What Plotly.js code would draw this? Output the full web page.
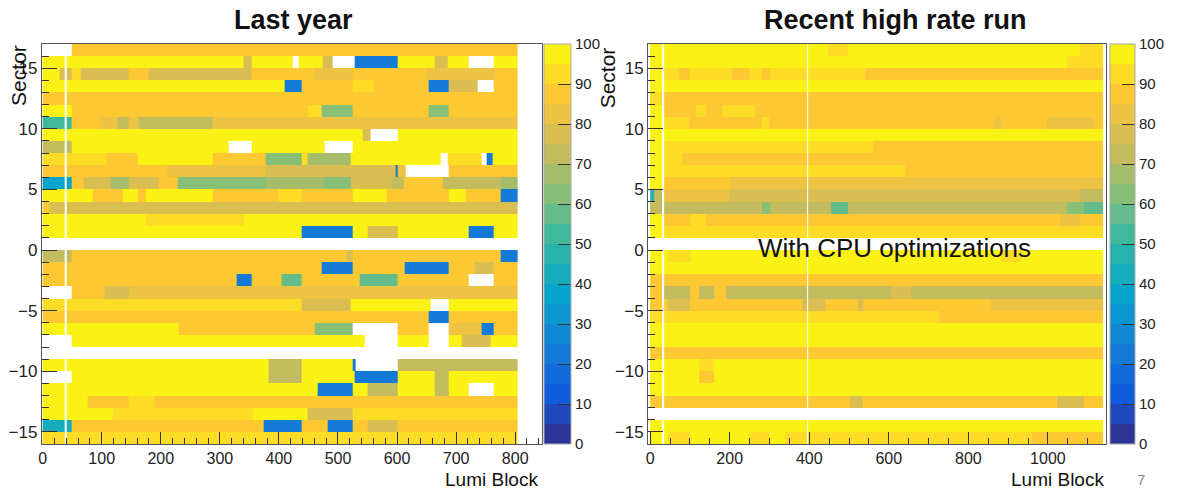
<!DOCTYPE html>
<html><head><meta charset="utf-8">
<script src="https://cdn.plot.ly/plotly-3.0.1.min.js"></script>
<style>html,body{margin:0;padding:0;background:#fff}#chart{width:1178px;height:490px}</style>
</head><body><div id="chart"></div>
<script>
const N = null;
// sectors listed top to bottom
const sectors = [16,15,14,13,12,11,10,9,8,7,6,5,4,3,2,1,0,-1,-2,-3,-4,-5,-6,-7,-8,-9,-10,-11,-12,-13,-14,-15,-16];
// each row: run-length segments [endLumiBlock, value] starting at lumi block 0 (null = no data)
const lastYearRows = [
 [[49,N],[805,88]],
 [[340,97],[353,77],[424,97],[434,N],[474,97],[491,77],[528,N],[601,20],[663,97],[685,77],[722,97],[764,N],[805,97]],
 [[29,97],[49,77],[65,92],[146,77],[180,88],[353,77],[460,87],[525,80],[650,87],[765,80],[805,87]],
 [[410,97],[438,20],[525,87],[560,92],[654,87],[688,20],[736,77],[764,N],[805,87]],
 [[805,87]],
 [[49,97],[449,87],[472,92],[525,62],[654,87],[688,62],[805,87]],
 [[49,55],[96,87],[127,82],[146,72],[163,82],[287,72],[805,83]],
 [[542,97],[556,78],[601,N],[805,97]],
 [[49,72],[315,97],[353,N],[478,97],[525,N],[805,97]],
 [[108,92],[160,87],[287,97],[377,87],[438,63],[449,92],[522,68],[674,97],[685,N],[744,92],[752,N],[761,20],[805,97]],
 [[210,87],[377,80],[598,78],[601,20],[615,82],[688,N],[805,85]],
 [[49,38],[70,87],[115,75],[146,68],[197,75],[228,87],[377,63],[475,68],[522,63],[590,77],[611,72],[678,87],[775,72],[805,65]],
 [[85,97],[136,87],[160,97],[175,87],[287,97],[399,87],[438,92],[525,87],[582,97],[688,87],[716,97],[775,87],[805,20]],
 [[12,87],[805,77]],
 [[175,97],[340,92],[805,97]],
 [[438,97],[525,20],[551,97],[601,77],[722,97],[764,20],[805,97]],
 [[805,N]],
 [[49,72],[514,87],[525,77],[775,87],[805,20]],
 [[472,89],[525,20],[613,89],[688,20],[731,89],[764,77],[805,89]],
 [[329,87],[354,20],[405,87],[438,57],[537,87],[601,57],[722,87],[764,N],[805,87]],
 [[49,N],[105,87],[146,75],[805,84]],
 [[438,92],[522,75],[657,97],[688,N],[805,97]],
 [[654,87],[688,20],[805,87]],
 [[230,97],[461,87],[525,63],[601,N],[654,87],[688,N],[744,82],[764,20],[805,87]],
 [[49,N],[545,97],[601,N],[654,97],[688,N],[710,97],[758,77],[805,97]],
 [[805,N]],
 [[383,97],[438,72],[525,97],[530,20],[601,N],[805,72]],
 [[49,N],[383,97],[438,72],[528,97],[601,20],[663,97],[688,72],[805,97]],
 [[466,97],[525,20],[551,97],[601,72],[663,97],[688,72],[722,97],[764,N],[805,97]],
 [[77,97],[146,87],[190,92],[805,87]],
 [[119,97],[355,92],[449,97],[525,75],[805,92]],
 [[49,43],[374,87],[438,20],[482,87],[525,20],[551,87],[601,77],[805,87]],
 [[805,91]]
];
const recentRows = [
 [[448,97],[497,92],[1082,97],[1138,92]],
 [[1048,97],[1138,92]],
 [[32,97],[73,92],[97,87],[205,92],[248,87],[282,92],[302,87],[540,92],[1138,87]],
 [[1138,97]],
 [[32,92],[1138,87]],
 [[32,97],[115,87],[140,92],[180,87],[265,92],[1138,87]],
 [[32,97],[98,92],[280,87],[300,92],[865,87],[882,82],[998,87],[1115,82],[1138,87]],
 [[1138,97]],
 [[32,97],[560,92],[1138,87]],
 [[32,97],[80,92],[1138,87]],
 [[32,97],[640,92],[1138,87]],
 [[32,97],[200,87],[1138,84]],
 [[10,45],[32,72],[198,82],[1082,77],[1138,74]],
 [[282,72],[302,60],[456,72],[497,58],[1048,72],[1090,63],[1138,58]],
 [[32,97],[100,87],[140,92],[1031,87],[1082,82],[1138,87]],
 [[32,97],[1138,91]],
 [[1138,N]],
 [[44,97],[102,92],[882,97],[932,92],[1138,97]],
 [[1138,97]],
 [[1138,87]],
 [[32,87],[100,74],[123,87],[161,74],[190,87],[607,74],[657,78],[1138,74]],
 [[46,87],[100,77],[382,87],[440,77],[523,87],[535,77],[857,87],[1138,80]],
 [[727,92],[1138,88]],
 [[1138,97]],
 [[1138,97]],
 [[1138,88]],
 [[123,97],[161,92],[1138,97]],
 [[123,97],[161,86],[1138,97]],
 [[1138,97]],
 [[228,88],[503,85],[535,78],[1023,85],[1090,78],[1138,87]],
 [[1138,N]],
 [[1138,97]],
 [[44,97],[102,91],[248,97],[300,91],[340,97],[960,92],[1138,88]]
];
// lumi block ranges with no data in every sector (thin white columns)
const lastYearGaps = [[38,40]];
const recentGaps = [[30,34],[394,396]];
const lastYearTicks = [0,100,200,300,400,500,600,700,800];
const recentTicks = [0,200,400,600,800,1000];
const sectorTicks = [-15,-10,-5,0,5,10,15];
const colorTicks = [0,10,20,30,40,50,60,70,80,90,100];

// ROOT kBird palette
const birdStops = [[53,42,135],[15,92,221],[20,129,214],[6,164,202],[46,183,164],[135,191,119],[209,187,89],[254,200,50],[249,251,14]];
function bird(t){
  const n = birdStops.length-1; const p = Math.min(n-1e-9, Math.max(0,t*n)); const i = Math.floor(p), f = p-i;
  const a = birdStops[i], b = birdStops[i+1];
  return 'rgb(' + [0,1,2].map(k=>Math.round(a[k]+(b[k]-a[k])*f)).join(',') + ')';
}
const nBands = 20, colorscale = [];
for (let i=0;i<nBands;i++){ const c = bird((i+0.5)/nBands); colorscale.push([i/nBands,c],[(i+1)/nBands,c]); }

function buildGrid(rows, gaps){
  const set = new Set([0]);
  rows.forEach(r=>r.forEach(s=>set.add(s[0])));
  gaps.forEach(g=>{set.add(g[0]);set.add(g[1]);});
  const edges = Array.from(set).sort((a,b)=>a-b);
  const z = rows.map(r=>{
    const out = [];
    for (let c=0;c<edges.length-1;c++){
      const mid = (edges[c]+edges[c+1])/2;
      if (gaps.some(g=>mid>g[0]&&mid<g[1])) { out.push(null); continue; }
      const seg = r.find(s=>s[0]>mid);
      out.push(seg ? seg[1] : null);
    }
    return out;
  }).reverse();
  return {edges, z};
}
const yCenters = sectors.slice().reverse().map(s=>s+0.5);
const gL = buildGrid(lastYearRows, lastYearGaps);
const gR = buildGrid(recentRows, recentGaps);

const W = 1178, H = 490;
const FONT = 'Liberation Sans, Arial, sans-serif';
const tickFont = {family: FONT, size: 16, color: '#222'};
function xAxis(dom, range, ticks, minor, anchor){
  return {domain: dom, range: range, anchor: anchor, tickvals: ticks, ticks: 'inside', ticklen: 12, tickcolor: '#333',
    minor: {dtick: minor, tick0: 0, ticks: 'inside', ticklen: 6, tickcolor: '#333', showgrid: false},
    showline: true, linecolor: '#555', linewidth: 1, mirror: true, showgrid: false, zeroline: false, tickfont: tickFont, fixedrange: true};
}
function yAxis(anchor){
  return {domain: [1-444/H, 1-44/H], range: [-16,17], anchor: anchor, tickvals: sectorTicks, ticks: 'inside', ticklen: 15, tickcolor: '#333',
    minor: {dtick: 1, tick0: 0, ticks: 'inside', ticklen: 7, tickcolor: '#333', showgrid: false},
    showline: true, linecolor: '#555', linewidth: 1, mirror: true, showgrid: false, zeroline: false,
    tickfont: {family: FONT, size: 17, color: '#222'}, fixedrange: true};
}
function cbar(xpx, thick){
  return {x: xpx/W, xanchor: 'left', xpad: 0, ypad: 0, y: 1-244/H, yanchor: 'middle', len: 400/H, lenmode: 'fraction',
    thickness: thick, thicknessmode: 'pixels', tickvals: colorTicks, ticks: 'inside', ticklen: 13, tickcolor: '#333',
    outlinewidth: 1, outlinecolor: '#aaa', tickfont: {family: FONT, size: 15, color: '#222'}, borderwidth: 0};
}
const traces = [
  {type: 'heatmap', x: gL.edges, y: yCenters, z: gL.z, coloraxis: 'coloraxis', xaxis: 'x', yaxis: 'y', hoverongaps: false},
  {type: 'heatmap', x: gR.edges, y: yCenters, z: gR.z, coloraxis: 'coloraxis2', xaxis: 'x2', yaxis: 'y2', hoverongaps: false}
];
function ann(text, xpx, ypx, size, extra){
  return Object.assign({text: text, x: xpx/W, y: 1-ypx/H, xref: 'paper', yref: 'paper', showarrow: false,
    xanchor: 'center', yanchor: 'middle', font: {family: FONT, size: size, color: '#111'}}, extra||{});
}
const layout = {
  width: W, height: H, margin: {l:0, r:0, t:0, b:0}, paper_bgcolor: '#fff', plot_bgcolor: '#fff', showlegend: false,
  xaxis: xAxis([42/W, 545/W], [-1.5, 845], lastYearTicks, 20, 'y'),
  yaxis: yAxis('x'),
  xaxis2: xAxis([652/W, 1113/W], [-5, 1147], recentTicks, 50, 'y2'),
  yaxis2: yAxis('x2'),
  coloraxis: {cmin: 0, cmax: 100, colorscale: colorscale, colorbar: cbar(547, 27)},
  coloraxis2: {cmin: 0, cmax: 100, colorscale: colorscale, colorbar: cbar(1117, 25)},
  annotations: [
    ann('<b>Last year</b>', 295, 20, 27),
    ann('<b>Recent high rate run</b>', 901, 20, 27),
    ann('Sector', 18, 75, 21, {textangle: -90}),
    ann('Sector', 611, 78, 21, {textangle: -90}),
    ann('Lumi Block', 494, 479, 19),
    ann('Lumi Block', 1064, 479, 19),
    ann('With CPU optimizations', 900, 248, 26),
    ann('7', 1148, 479, 15, {font: {family: FONT, size: 15, color: '#888'}})
  ]
};
Plotly.newPlot('chart', traces, layout, {staticPlot: true, displayModeBar: false});
</script>
</body></html>
